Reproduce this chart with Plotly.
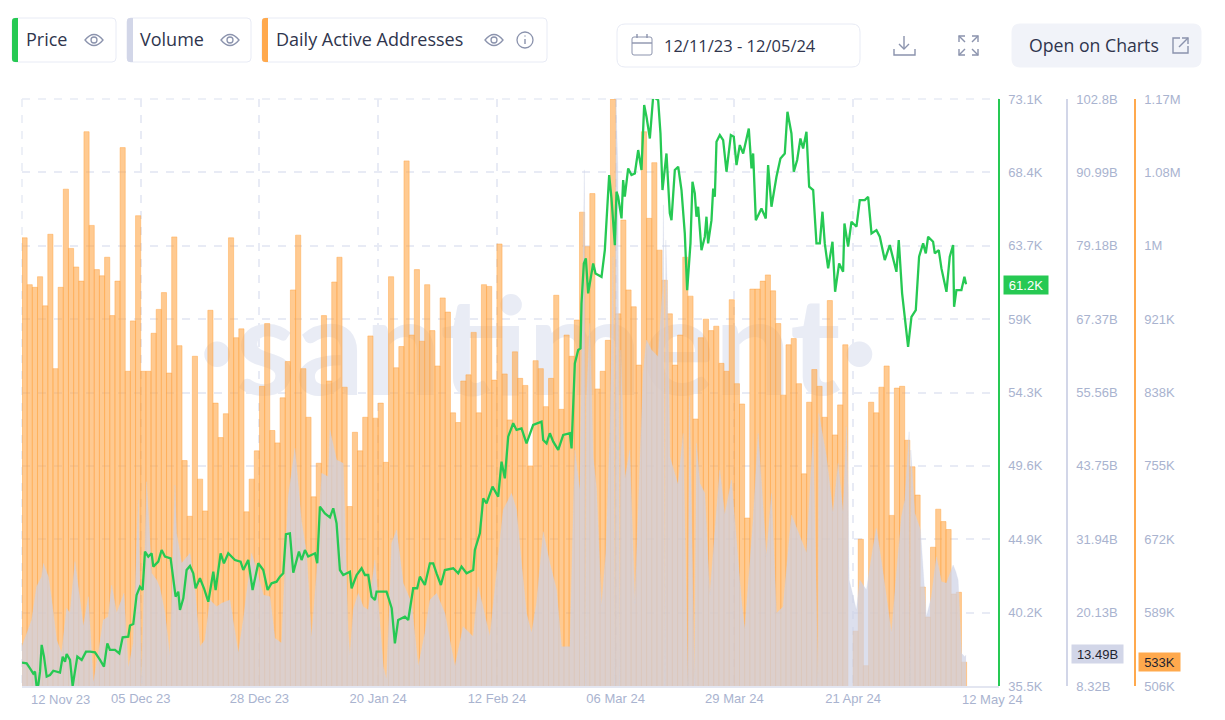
# Santiment style chart: price, volume and daily active addresses
import pandas as pd
import plotly.graph_objects as go

W = 1225
H = 720

# Daily active addresses, thousands, one bar per day from 12 Nov 23
daa = [1013, 960, 957, 969, 936, 1017, 865, 957, 1068, 1001, 980, 964, 1133, 1027, 977, 970, 991, 925, 964, 1115,
       862, 919, 1038, 862, 862, 905, 932, 951, 860, 1014, 891, 761, 698, 879, 740, 704, 931, 826, 787, 814,
       1013, 900, 910, 703, 740, 772, 845, 916, 795, 781, 832, 873, 954, 1016, 865, 810, 720, 758, 925, 851,
       963, 991, 844, 709, 793, 772, 810, 902, 809, 826, 759, 969, 866, 890, 1100, 903, 977, 896, 960, 908,
       868, 945, 929, 815, 804, 851, 858, 906, 815, 960, 958, 852, 1006, 859, 807, 884, 854, 846, 755, 874,
       865, 822, 854, 948, 819, 903, 879, 920, 1042, 1003, 1063, 842, 862, 897, 1170, 927, 1033, 954, 935, 869,
       1133, 1035, 1098, 999, 965, 927, 869, 903, 991, 947, 808, 900, 921, 908, 913, 871, 862, 943, 848, 825,
       696, 955, 955, 964, 971, 953, 916, 835, 892, 899, 848, 746, 827, 864, 845, 810, 942, 790, 824, 892,
       500, 568, 672, 529, 827, 815, 844, 868, 699, 843, 845, 784, 754, 722, 618, 584, 663, 706, 692, 683,
       610, 612, 533]

# Price, thousands, read at the turning points of the line (days since 12 Nov 23)
price_day = [0, 0.9, 1.55, 2.19, 2.52, 2.84, 3.16, 3.49, 3.81, 4.26, 4.78, 5.42, 6.07, 6.71, 7.36, 7.88, 8.33, 8.65, 9.3, 9.81,
             10.26, 10.72, 11.56, 12.39, 13.17, 14.14, 15.11, 15.88, 16.53, 17.04, 18.01, 18.85, 19.5, 20.59, 20.92, 21.56, 22.2, 22.85, 23.37, 23.82,
             24.47, 25.11, 25.44, 26.4, 27.05, 27.7, 28.79, 29.31, 29.76, 30.28, 30.6, 31.25, 31.89, 32.54, 33.18, 33.63, 34.47, 35.25, 36.09, 37.06,
             37.51, 38.48, 39.12, 39.96, 40.61, 41.25, 42.35, 42.87, 43.83, 44.67, 45.77, 46.74, 47.58, 48.35, 49.32, 49.97, 50.61, 51.13, 51.9, 52.55,
             53.65, 54.16, 54.81, 55.45, 56.75, 57.2, 57.71, 58.68, 59.65, 60.3, 60.94, 61.59, 62.23, 63.52, 63.85, 64.82, 65.79, 66.43, 67.08, 67.73,
             68.37, 68.69, 70.62, 71.62, 72.24, 72.88, 74.18, 74.82, 75.79, 76.56, 77.08, 78.05, 79.02, 79.66, 80.31, 81.15, 81.92, 83.54, 84.5, 85.15,
             86.12, 87.41, 87.73, 88.7, 89.35, 89.99, 91.15, 92.25, 92.9, 93.54, 94.19, 95.16, 95.8, 96.77, 97.74, 99.03, 100.65, 100.97, 101.62, 102.26,
             102.91, 103.88, 104.85, 106.14, 106.46, 107.1, 107.75, 108.2, 108.39, 108.84, 109.23, 109.68, 110.65, 111.1, 112.27, 112.91, 113.75, 114.2, 114.85, 115.17,
             115.49, 116.14, 116.46, 116.78, 117.43, 118.07, 118.72, 119.37, 120.01, 120.53, 120.98, 121.63, 122.27, 123.24, 123.69, 124.08, 124.85, 125.5, 125.82, 126.47,
             127.12, 127.76, 128.4, 128.86, 129.5, 129.89, 130.34, 130.66, 130.99, 131.63, 132.28, 132.6, 132.92, 133.57, 133.9, 134.22, 134.54, 135.19, 135.83, 136.48,
             137.32, 137.89, 138.42, 139.06, 139.71, 140.8, 141.32, 141.64, 142.16, 143.25, 144.09, 144.54, 145.19, 145.83, 146.16, 146.93, 147.77, 148.29, 149.06, 149.52,
             150.17, 150.8, 151.32, 151.97, 152.49, 153.27, 153.91, 154.56, 155.07, 155.52, 156.17, 157.01, 157.52, 158.3, 159.07, 159.33, 160.04, 160.69, 161.66, 162.3,
             163.27, 163.92, 164.57, 165.53, 166.18, 167.14, 168.11, 169.4, 169.85, 170.5, 171.66, 172.31, 173.15, 173.79, 174.57, 175.09, 175.54, 176.5, 176.83, 177.6,
             178.12, 179.09, 179.73, 180.38, 180.57, 181.02, 181.99, 182.57, 182.89]
price = [37.0, 36.95, 36.63, 36.3, 36.42, 35.46, 35.57, 36.42, 38.13, 37.38, 36.1, 36.2, 36.48, 36.42, 36.36, 37.38, 37.06, 37.55, 37.17, 35.5,
         36.31, 37.38, 37.17, 37.7, 37.7, 37.66, 37.17, 36.74, 38.23, 37.81, 37.81, 37.59, 38.62, 38.66, 39.37, 39.47, 41.33, 41.86, 41.65, 44.11,
         43.79, 44.0, 43.15, 43.47, 44.21, 43.79, 43.68, 42.4, 41.22, 41.54, 40.37, 41.12, 42.93, 43.19, 42.72, 41.76, 42.4, 41.76, 40.9, 42.82,
         41.65, 44.0, 43.36, 44.0, 43.79, 43.57, 43.47, 42.93, 43.57, 41.65, 43.36, 42.93, 41.65, 42.08, 42.18, 42.5, 42.72, 45.22, 45.28, 42.76,
         44.11, 43.57, 44.21, 43.79, 44.0, 43.36, 46.99, 46.56, 46.3, 46.88, 45.92, 42.93, 42.61, 42.82, 41.76, 42.61, 43.04, 42.61, 42.61, 41.22,
         41.01, 41.54, 41.54, 40.48, 38.23, 39.73, 39.94, 39.73, 41.76, 41.76, 42.5, 41.97, 43.36, 43.36, 42.72, 41.97, 42.93, 43.04, 42.72, 43.15,
         42.72, 42.93, 44.21, 45.28, 47.52, 47.2, 48.27, 47.63, 49.87, 48.8, 51.47, 52.33, 51.9, 52.0, 51.04, 52.22, 52.43, 51.26, 51.04, 51.69,
         51.15, 50.62, 51.58, 51.69, 50.72, 56.16, 57.02, 57.12, 60.0, 62.57, 62.89, 60.65, 62.57, 61.93, 61.71, 63.42, 68.23, 66.73, 63.74, 67.16,
         66.84, 65.45, 67.91, 66.84, 68.65, 68.23, 68.33, 69.83, 68.55, 72.71, 71.96, 70.57, 73.24, 73.03, 70.89, 67.27, 69.61, 65.77, 65.34, 68.55,
         68.76, 67.27, 64.49, 60.86, 63.85, 67.8, 67.05, 65.56, 66.2, 63.42, 64.28, 65.56, 63.85, 65.34, 67.37, 66.84, 70.36, 70.79, 70.47, 68.44,
         70.79, 70.68, 68.87, 70.15, 69.61, 71.21, 68.65, 69.61, 65.34, 66.09, 65.45, 68.87, 66.2, 67.69, 68.12, 69.29, 69.61, 72.28, 70.89, 68.44,
         69.19, 70.57, 69.93, 71.0, 67.48, 67.27, 63.85, 63.85, 65.88, 63.85, 62.25, 63.96, 60.75, 62.57, 62.03, 65.13, 63.64, 65.24, 64.92, 66.62,
         66.62, 66.84, 64.49, 64.7, 64.28, 62.78, 63.74, 62.03, 64.06, 60.65, 57.23, 59.15, 59.58, 63.0, 63.85, 63.21, 64.28, 63.96, 63.21, 63.42,
         62.25, 60.75, 63.0, 63.74, 59.79, 60.86, 60.86, 61.71, 61.24]

# Volume, billions, same idea
volume_day = [0, 0.9, 1.87, 2.84, 3.81, 4.13, 5.1, 5.75, 6.71, 7.68, 8.65, 9.3, 10.26, 11.23, 11.88, 12.85, 13.82, 14.78, 15.75, 16.72,
              17.37, 18.33, 19.75, 20.59, 21.56, 22.53, 23.18, 24.14, 25.11, 26.08, 26.73, 27.7, 28.66, 29.63, 29.95, 30.92, 32.54, 33.51, 34.47, 35.44,
              36.41, 37.7, 38.67, 40.28, 41.9, 42.87, 44.48, 45.45, 46.74, 48.03, 49.0, 50.29, 51.58, 52.87, 54.16, 55.13, 56.1, 57.07, 58.04, 59.33,
              59.65, 60.94, 62.23, 63.2, 63.52, 64.17, 65.14, 66.11, 67.08, 68.37, 70.0, 70.62, 71.62, 72.56, 73.86, 75.47, 76.76, 78.05, 79.02, 80.31,
              81.92, 83.86, 85.47, 87.41, 88.38, 90.64, 92.57, 93.22, 94.84, 95.8, 96.77, 97.74, 98.71, 99.68, 100.97, 102.26, 103.56, 104.52, 106.14, 107.1,
              108.07, 108.95, 109.2, 109.36, 110.0, 110.65, 111.3, 112.27, 113.1, 113.88, 114.5, 114.85, 115.05, 115.43, 115.8, 116.0, 116.78, 117.75, 118.72, 119.37,
              120.34, 120.98, 121.95, 123.24, 124.08, 124.27, 124.53, 124.72, 125.18, 125.5, 127.1, 128.08, 129.0, 129.3, 130.3, 130.66, 131.31, 132.28, 133.25, 135.18,
              136.15, 137.44, 139.37, 140.02, 141.64, 142.61, 144.22, 145.19, 146.16, 147.45, 149.06, 150.35, 151.97, 153.26, 154.23, 154.36, 155.84, 157.13, 158.1, 159.07,
              159.72, 160.04, 160.24, 160.88, 161.65, 162.3, 163.59, 164.89, 165.53, 166.82, 168.44, 169.41, 170.38, 171.03, 171.87, 172.0, 172.18, 172.96, 174.05, 175.2,
              176.18, 177.15, 178.12, 179.09, 180.38, 180.9, 181.35, 182.0, 182.64, 182.89]
volume = [14.65, 16.8, 18.94, 24.31, 25.92, 28.06, 25.92, 22.16, 15.72, 13.58, 20.82, 20.01, 28.33, 22.16, 17.87, 22.7, 8.75, 13.58, 18.94, 19.48,
          24.57, 20.01, 23.23, 11.16, 15.19, 38.26, 8.75, 41.21, 26.45, 25.38, 24.04, 20.01, 13.04, 40.67, 32.89, 28.06, 29.67, 23.77, 14.65, 15.72,
          22.16, 21.09, 21.62, 22.16, 13.58, 18.94, 29.67, 26.99, 22.96, 22.7, 15.99, 15.19, 38.79, 46.57, 34.77, 29.67, 15.99, 26.45, 42.55, 42.01,
          49.52, 44.69, 44.16, 16.8, 13.04, 20.55, 23.23, 21.09, 20.55, 28.6, 11.43, 9.28, 31.28, 33.43, 24.84, 21.62, 11.43, 16.8, 22.16, 23.23,
          20.01, 11.43, 17.87, 16.26, 24.31, 16.26, 31.28, 36.65, 39.33, 36.65, 28.06, 20.01, 16.8, 21.62, 33.16, 28.06, 23.77, 14.65, 14.65, 46.3,
          39.6, 91.4, 8.32, 54.35, 66.69, 45.2, 40.1, 21.09, 29.67, 48.98, 77.4, 8.32, 102.8, 91.9, 8.32, 62.4, 41.47, 46.3, 21.62, 35.57,
          58.65, 64.0, 62.4, 61.3, 72.0, 85.74, 8.32, 80.1, 65.6, 45.23, 40.67, 48.98, 8.32, 54.9, 8.32, 47.38, 40.94, 39.33, 22.96, 43.08,
          35.84, 41.47, 22.16, 17.33, 35.04, 48.98, 29.13, 39.33, 20.01, 21.09, 35.84, 33.16, 29.67, 48.98, 8.32, 52.2, 45.23, 36.11, 44.16, 36.11,
          50.06, 40.4, 25.38, 23.23, 20.55, 25.38, 23.77, 30.74, 33.7, 26.45, 16.8, 26.45, 35.57, 38.26, 49.25, 8.32, 46.3, 36.11, 33.43, 19.48,
          22.7, 29.13, 25.11, 24.84, 27.79, 26.72, 25.38, 13.58, 13.04, 13.31]

# Axis ticks, bottom to top
price_ticks = [35.5, 40.2, 44.9, 49.6, 54.3, 59, 63.7, 68.4, 73.1]
price_labels = ["35.5K", "40.2K", "44.9K", "49.6K", "54.3K", "59K", "63.7K", "68.4K", "73.1K"]
volume_ticks = [8.32, 20.13, 31.94, 43.75, 55.56, 67.37, 79.18, 90.99, 102.8]
volume_labels = ["8.32B", "20.13B", "31.94B", "43.75B", "55.56B", "67.37B", "79.18B", "90.99B", "102.8B"]
daa_ticks = [506, 589, 672, 755, 838, 921, 1004, 1087, 1170]
daa_labels = ["506K", "589K", "672K", "755K", "838K", "921K", "1M", "1.08M", "1.17M"]
date_ticks = ["2023-11-12", "2023-12-05", "2023-12-28", "2024-01-20", "2024-02-12", "2024-03-06", "2024-03-29", "2024-04-21"]
date_labels = ["", "05 Dec 23", "28 Dec 23", "20 Jan 24", "12 Feb 24", "06 Mar 24", "29 Mar 24", "21 Apr 24"]

GREEN = "#26c953"
ORANGE = "#ffa94d"
LAVENDER = "#d2d6e8"
TICK = "#a9b3cf"
GRID = "#e8ebf5"
TEXT = "#2f354d"
ICON = "#8b93ad"
TICK_FONT = dict(family="Liberation Sans", size=13, color=TICK)

start = pd.Timestamp("2023-11-12")
days = pd.date_range(start, periods=len(daa), freq="D")
price_x = start + pd.to_timedelta(price_day, unit="D")
volume_x = start + pd.to_timedelta(volume_day, unit="D")
x_end = start + pd.to_timedelta(189.27, unit="D")


def px(x):
    return x / W


def py(y):
    return 1 - y / H


def rounded(x0, y0, x1, y1, r, r_right=None):
    # rounded rectangle path in page pixels
    rr = r if r_right is None else r_right
    return (f"M {px(x0 + r)} {py(y0)} L {px(x1 - rr)} {py(y0)} Q {px(x1)} {py(y0)} {px(x1)} {py(y0 + rr)} "
            f"L {px(x1)} {py(y1 - rr)} Q {px(x1)} {py(y1)} {px(x1 - rr)} {py(y1)} L {px(x0 + r)} {py(y1)} "
            f"Q {px(x0)} {py(y1)} {px(x0)} {py(y1 - r)} L {px(x0)} {py(y0 + r)} Q {px(x0)} {py(y0)} {px(x0 + r)} {py(y0)} Z")


shapes = []


def box(x0, y0, x1, y1, r, fill="white", line="#e8ebf5"):
    shapes.append(dict(type="path", path=rounded(x0, y0, x1, y1, r), xref="paper", yref="paper",
                       fillcolor=fill, line=dict(color=line, width=1)))


def stroke(points, width=1.4, color=ICON):
    path = "M " + " L ".join(f"{px(a)} {py(b)}" for a, b in points)
    shapes.append(dict(type="path", path=path, xref="paper", yref="paper", line=dict(color=color, width=width)))


def circle(cx, cy, r, width=1.3):
    shapes.append(dict(type="circle", xref="paper", yref="paper", x0=px(cx - r), x1=px(cx + r),
                       y0=py(cy + r), y1=py(cy - r), line=dict(color=ICON, width=width)))


def eye(cx, cy):
    path = (f"M {px(cx - 9)} {py(cy)} Q {px(cx)} {py(cy - 11)} {px(cx + 9)} {py(cy)} "
            f"Q {px(cx)} {py(cy + 11)} {px(cx - 9)} {py(cy)} Z")
    shapes.append(dict(type="path", path=path, xref="paper", yref="paper", line=dict(color=ICON, width=1.3)))
    circle(cx, cy, 3)


def chip(x0, x1, color):
    box(x0, 18, x1, 62, 4)
    shapes.append(dict(type="path", path=rounded(x0, 18, x0 + 6, 62, 3, 0), xref="paper", yref="paper",
                       fillcolor=color, line=dict(width=0)))


# plot frame: plotly leaves out the grid lines on the edges
for x0, y0, x1, y1 in [(22, 99, 999, 99), (22, 99, 22, 686)]:
    shapes.append(dict(type="line", xref="paper", yref="paper", x0=px(x0), y0=py(y0), x1=px(x1), y1=py(y1),
                       layer="below", line=dict(color=GRID, width=1.5, dash="8px,8px")))

# legend chips
chip(12, 116, GREEN)
chip(127, 251, LAVENDER)
chip(262, 547, ORANGE)
eye(94, 40)
eye(230, 40)
eye(494, 40)
circle(525, 40, 8)
stroke([(525, 39), (525, 44)])
stroke([(525, 35.5), (525, 36.5)])

# date picker and buttons
box(617, 24, 860, 67, 8)
box(632, 37, 652, 55, 2, fill="rgba(0,0,0,0)", line=ICON)
stroke([(632, 43), (652, 43)])
stroke([(637, 34), (637, 38)])
stroke([(647, 34), (647, 38)])
stroke([(904, 36), (904, 49)])
stroke([(899, 44), (904, 49), (909, 44)])
stroke([(894, 49), (894, 55), (915, 55), (915, 49)])
for ax, ay, sx, sy in [(959, 36, 1, 1), (978, 36, -1, 1), (959, 55, 1, -1), (978, 55, -1, -1)]:
    stroke([(ax + 6 * sx, ay), (ax, ay), (ax, ay + 6 * sy)])
    stroke([(ax, ay), (ax + 6 * sx, ay + 6 * sy)])
box(1012, 24, 1201, 67, 8, fill="#f1f3f9", line="#f1f3f9")
stroke([(1180, 38), (1173, 38), (1173, 53), (1188, 53), (1188, 46)])
stroke([(1179, 47), (1188, 38)])
stroke([(1182, 38), (1188, 38), (1188, 44)])

fig = go.Figure()

# watermark sits on the lowest axis so the bars cover it
fig.add_trace(go.Scatter(x=[pd.Timestamp("2024-02-20")], y=[56.3], mode="text", text=["·santiment·"],
                         textfont=dict(family="Lato", size=136, weight=700, color="#e9ecf5"), yaxis="y",
                         hoverinfo="skip", showlegend=False))
fig.add_trace(go.Bar(x=days, y=daa, yaxis="y2", offset=0, width=86400000,
                     marker=dict(color="rgba(255,169,77,0.62)", line=dict(width=0.8, color="rgba(255,160,60,0.55)")),
                     name="Daily Active Addresses"))
fig.add_trace(go.Scatter(x=volume_x, y=volume, yaxis="y3", mode="lines", fill="tozeroy", name="Volume",
                         line=dict(color="rgba(205,210,230,0.5)", width=0.5), fillcolor="rgba(205,210,230,0.7)"))
fig.add_trace(go.Scatter(x=price_x, y=price, yaxis="y4", mode="lines", name="Price",
                         line=dict(color=GREEN, width=2.3)))


def side_axis(ticks, labels, lo, hi, pos, color):
    return dict(overlaying="y", anchor="free", side="right", position=px(pos), domain=[py(686), py(99)],
                range=[lo, hi], tickmode="array", tickvals=ticks, ticktext=labels, tickfont=TICK_FONT,
                showgrid=False, zeroline=False, showline=True, linecolor=color, linewidth=1.5,
                ticks="outside", ticklen=6, tickcolor="rgba(0,0,0,0)")


annotations = []


def label(x, y, text, size=18, color=TEXT, family="Open Sans", anchor="left"):
    annotations.append(dict(xref="paper", yref="paper", x=px(x), y=py(y), text=text, showarrow=False,
                            xanchor=anchor, yanchor="middle", font=dict(family=family, size=size, color=color)))


def badge(x0, width, axis, value, text, fill, color):
    annotations.append(dict(xref="paper", yref=axis, x=px(x0), y=value, text=text, showarrow=False, xanchor="left",
                            yanchor="middle", width=width, height=18, align="center", bgcolor=fill, borderpad=0,
                            font=dict(family="Liberation Sans", size=13, color=color)))


label(24, 39, "Price")
label(138, 39, "Volume")
label(274, 39, "Daily Active Addresses")
label(662, 45, "12/11/23 - 12/05/24", size=16.5)
label(1027, 45, "Open on Charts", size=17.7)
label(60, 699, "12 Nov 23", size=13, color=TICK, family="Liberation Sans", anchor="center")
label(993, 699, "12 May 24", size=13, color=TICK, family="Liberation Sans", anchor="center")
badge(1003, 44, "y4", 61.2, "61.2K", GREEN, "white")
badge(1071, 51, "y3", 13.49, "13.49B", LAVENDER, "#1f2430")
badge(1138, 41, "y2", 533, "533K", ORANGE, "#1f2430")

fig.update_layout(
    width=W,
    height=H,
    margin=dict(l=0, r=0, t=0, b=0, autoexpand=False),
    paper_bgcolor="white",
    plot_bgcolor="white",
    showlegend=False,
    shapes=shapes,
    annotations=annotations,
    xaxis=dict(domain=[px(22), px(999)], range=[start, x_end], type="date", tickmode="array", tickvals=date_ticks,
               ticktext=date_labels, tickfont=TICK_FONT, showgrid=True, gridcolor=GRID, griddash="8px,8px",
               gridwidth=1.5, showline=True, linecolor="#e3e6f1", linewidth=1.5, zeroline=False, ticks=""),
    yaxis=dict(domain=[py(686), py(99)], range=[35.5, 73.1], tickmode="array", tickvals=price_ticks,
               showticklabels=False, showgrid=True, gridcolor=GRID, griddash="8px,8px", gridwidth=1.5,
               zeroline=False, showline=False, ticks=""),
    yaxis2=side_axis(daa_ticks, daa_labels, 506, 1170, 1135, ORANGE),
    yaxis3=side_axis(volume_ticks, volume_labels, 8.32, 102.8, 1067, LAVENDER),
    yaxis4=side_axis(price_ticks, price_labels, 35.5, 73.1, 999, GREEN),
)

fig.write_html("out.html", config=dict(displayModeBar=False), post_script="document.body.style.margin='0';")
